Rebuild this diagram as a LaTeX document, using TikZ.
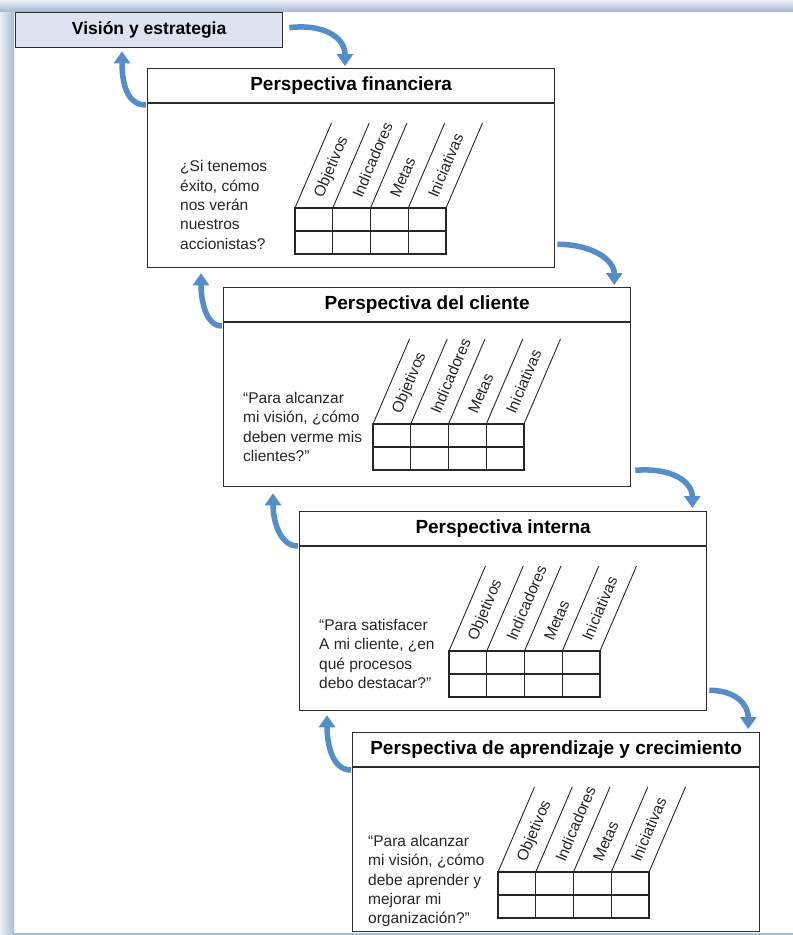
\documentclass[tikz,border=0pt]{standalone}
\usepackage{fontspec}
\setmainfont{Liberation Sans}
\usetikzlibrary{arrows.meta,calc}
\definecolor{arrblue}{RGB}{84,141,200}
\definecolor{visfill}{RGB}{221,227,240}
\definecolor{bandblue}{RGB}{168,186,214}
\definecolor{bandlight}{RGB}{236,240,246}
\definecolor{edge}{RGB}{45,45,45}
\tikzset{
  pbox/.style={draw=edge,line width=1.3pt,fill=white,minimum width=407pt,minimum height=199pt,inner sep=0pt},
  hline/.style={draw=edge,line width=1.2pt},
  ptitle/.style={font=\fontsize{19}{22}\selectfont\bfseries,text=black,inner sep=0pt},
  ptext/.style={font=\fontsize{15.5}{19.3}\selectfont,text=black!85,align=left,inner sep=0pt},
  plab/.style={font=\fontsize{15.5}{17}\selectfont,text=black!85,rotate=67,inner sep=0pt},
  gridline/.style={draw=black!85,line width=1.1pt},
  slantline/.style={draw=black!85,line width=0.9pt},
  arr/.style={draw=arrblue,line width=5.5pt,-{Triangle[width=16pt,length=12pt]}},
}
\newcommand{\persp}[9]{%
  \begin{scope}[shift={(#2,#3)}]
    \node[pbox,anchor=north west] (#1) at (0,0) {};
    \draw[hline] ([yshift=-35pt]#1.north west) -- ([yshift=-35pt]#1.north east);
    \node[ptitle] (#1t) at ([yshift=-17.5pt]#1.north) {#4};
    \node[ptext,anchor=west] (#1q) at (#6,#7) {#5};
    \draw[gridline] (#8,#9) rectangle ++(151,46);
    \draw[gridline] (#8,#9+23) -- ++(151,0);
    \foreach \k in {1,2,3} \draw[gridline] (#8+\k*37.75,#9) -- ++(0,46);
    \foreach \k in {0,...,4} \draw[slantline] (#8+\k*37.75,#9) -- ++(36.5,-85);
    \foreach \lab [count=\k from 0] in {Objetivos,Indicadores,Metas,Iniciativas}
      \node[plab,anchor=west] (#1l\k) at (#8+\k*37.75+24,#9-11) {\lab};
  \end{scope}}
\begin{document}
\begin{tikzpicture}[x=1pt,y=-1pt]
\useasboundingbox (0,0) rectangle (793,935);
\fill[white] (0,0) rectangle (793,935);
\shade[left color=bandlight,right color=bandblue] (0,0) rectangle (14,935);
\shade[top color=bandlight,bottom color=bandblue] (0,0) rectangle (793,11);
\fill[bandblue] (14,933) rectangle (793,935);

\node[draw=edge,line width=1.3pt,fill=visfill,minimum width=267pt,minimum height=35pt,inner sep=0pt,anchor=north west,
      font=\fontsize{17.5}{20}\selectfont\bfseries] (vis) at (15,12) {Visión y estrategia};

\persp{b1}{147}{68}{Perspectiva financiera}{¿Si tenemos\\éxito, cómo\\nos verán\\nuestros\\accionistas?}{33}{137}{148}{140}
\persp{b2}{223}{287}{Perspectiva del cliente}{“Para alcanzar\\mi visión, ¿cómo\\deben verme mis\\clientes?”}{20}{140}{150}{137}
\persp{b3}{299}{511}{Perspectiva interna}{“Para satisfacer\\A mi cliente, ¿en\\qué procesos\\debo destacar?”}{20}{143}{150}{140}
\persp{b4}{352}{732}{Perspectiva de aprendizaje y crecimiento}{“Para alcanzar\\mi visión, ¿cómo\\debe aprender y\\mejorar mi\\organización?”}{16}{149}{146}{140}

% down arrows
\draw[arr] ([xshift=6pt,yshift=2.5pt]vis.east) .. controls +(32,-4) and +(0,-30) .. ([xshift=198pt,yshift=2pt]b1.north west);
\draw[arr] ([xshift=2pt,yshift=24pt]b1.south east) .. controls +(35,0) and +(0,-25) .. ([xshift=-17pt,yshift=2pt]b2.north east);
\draw[arr] ([xshift=4pt,yshift=17pt]b2.south east) .. controls +(37,-3) and +(0,-26) .. ([xshift=-15pt,yshift=3pt]b3.north east);
\draw[arr] ([xshift=2pt,yshift=21pt]b3.south east) .. controls +(27,0) and +(0,-24) .. ([xshift=-12pt,yshift=3pt]b4.north east);
% up arrows
\draw[arr] ([xshift=-1pt,yshift=-37pt]b1.north west) .. controls +(-20,0) and +(0,30) .. ([xshift=107pt,yshift=-3pt]vis.south west);
\draw[arr] ([xshift=-1pt,yshift=-39pt]b2.north west) .. controls +(-17,0) and +(0,25) .. ([xshift=54pt,yshift=-5pt]b1.south west);
\draw[arr] ([xshift=-1pt,yshift=-35pt]b3.north west) .. controls +(-19,0) and +(0,26) .. ([xshift=50pt,yshift=-6pt]b2.south west);
\draw[arr] ([xshift=-1pt,yshift=-38pt]b4.north west) .. controls +(-20,0) and +(0,26) .. ([xshift=28pt,yshift=-4pt]b3.south west);
\end{tikzpicture}
\end{document}
